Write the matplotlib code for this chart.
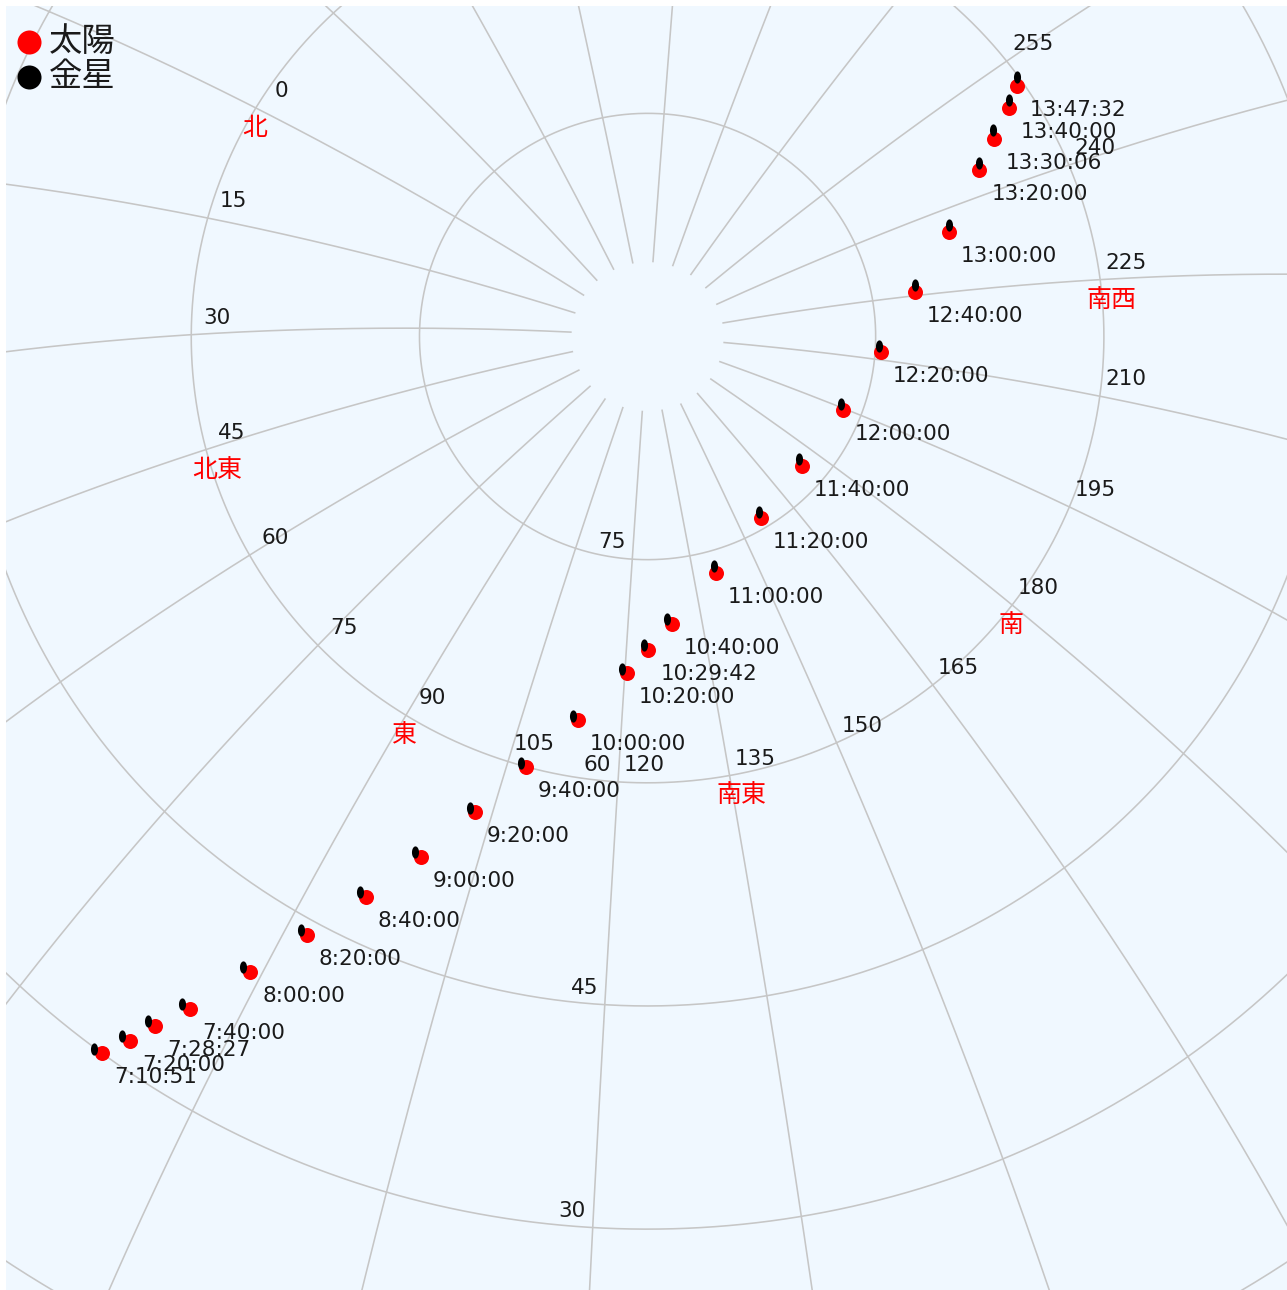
import numpy as np
import matplotlib
matplotlib.use("Agg")
import matplotlib.pyplot as plt
from matplotlib.path import Path
from matplotlib.lines import Line2D

# ---------------- data ----------------
times = ['7:10:51', '7:20:00', '7:28:27', '7:40:00', '8:00:00', '8:20:00', '8:40:00',
         '9:00:00', '9:20:00', '9:40:00', '10:00:00', '10:20:00', '10:29:42', '10:40:00',
         '11:00:00', '11:20:00', '11:40:00', '12:00:00', '12:20:00', '12:40:00', '13:00:00',
         '13:20:00', '13:30:06', '13:40:00', '13:47:32']
sun_alt = [30.02, 31.78, 33.53, 35.77, 39.94, 43.98, 48.04, 51.99, 56.09, 59.98, 63.82,
           67.36, 68.93, 70.61, 73.50, 75.70, 76.64, 76.24, 74.63, 72.16, 68.97, 65.48,
           63.63, 61.71, 60.41]
sun_az = [82.45, 83.68, 84.71, 86.33, 89.11, 91.92, 95.39, 98.98, 102.97, 107.51, 113.28,
          120.32, 124.11, 128.86, 140.36, 156.34, 174.57, 194.50, 212.04, 225.72, 235.92,
          243.81, 247.01, 249.74, 251.71]
venus_alt = [29.92, 31.70, 33.52, 35.75, 40.00, 44.08, 48.16, 52.15, 56.26, 60.16, 64.03,
             67.61, 69.24, 70.95, 73.97, 76.12, 77.05, 76.49, 74.76, 72.07, 68.80, 65.25,
             63.36, 61.39, 60.09]
venus_az = [81.79, 82.97, 84.01, 85.60, 88.39, 91.24, 94.65, 98.23, 102.23, 106.78, 112.47,
            119.45, 123.24, 127.98, 140.33, 156.85, 175.61, 195.91, 213.44, 227.26, 237.17,
            244.83, 248.18, 250.66, 252.60]
az_ticks = list(range(0, 360, 15))
alt_rings = [15, 30, 45, 60, 75]
directions = ['北', '北東', '東', '南東', '南', '南西', '西', '北西']
direction_az = [0, 45, 90, 135, 180, 225, 270, 315]
legend_labels = ['太陽', '金星']

# ---------------- projection (azimuthal equidistant, view centre off zenith) ----------------
VIEW_TILT = 20.673      # angular distance of view centre from zenith (deg)
VIEW_AZ = 124.398       # azimuth of view centre
ROT = 270.416           # screen rotation (deg)
K = 14.877              # pixels per degree
VX, VY = 649.801, 644.048   # pixel position of view centre (from top-left)


def project(alt, az):
    a = np.radians(np.asarray(alt, float))
    A = np.radians(np.asarray(az, float))
    x = np.cos(a) * np.cos(A)
    y = np.cos(a) * np.sin(A)
    z = np.sin(a)
    av = np.radians(VIEW_AZ)
    d = np.radians(VIEW_TILT)
    x1 = x * np.cos(av) + y * np.sin(av)
    y1 = -x * np.sin(av) + y * np.cos(av)
    x2 = x1 * np.cos(d) - z * np.sin(d)
    z2 = x1 * np.sin(d) + z * np.cos(d)
    c = np.degrees(np.arccos(np.clip(z2, -1, 1)))
    ang = np.radians(ROT) + np.arctan2(y1, x2)
    return c * np.cos(ang), c * np.sin(ang)


# ---------------- figure ----------------
W, H = 1287, 1290
BORDER = 6
fig = plt.figure(figsize=(W / 100, H / 100), dpi=100, facecolor='white')
ax = fig.add_axes([BORDER / W, 0, (W - BORDER) / W, (H - BORDER) / H])
ax.set_facecolor('#f0f8ff')
ax.set_xlim((BORDER - VX) / K, (W - VX) / K)
ax.set_ylim((VY - H) / K, (VY - BORDER) / K)
ax.set_xticks([])
ax.set_yticks([])
for s in ax.spines.values():
    s.set_visible(False)

GRID = '#c6c6c6'
TXT = '#1a1a1a'
CJK = ['Noto Sans CJK JP', 'DejaVu Sans']
FS = 15.5


def visible(px, py, dx, dy, margin=14):
    """True when a label placed at data point + pixel offset lies inside the view."""
    X, Y = ax.transData.transform((px, py))
    X, Y = X + dx, Y + dy
    return margin < X < W - margin and margin < Y < H - BORDER - margin


# azimuth lines
alts_line = np.linspace(85, -5, 400)
for az in az_ticks:
    gx, gy = project(alts_line, np.full_like(alts_line, az))
    ax.plot(gx, gy, color=GRID, lw=1.15, zorder=1, solid_capstyle='butt')

# altitude rings
azs_ring = np.linspace(0, 360, 1441)
for alt in alt_rings:
    gx, gy = project(np.full_like(azs_ring, alt), azs_ring)
    ax.plot(gx, gy, color=GRID, lw=1.15, zorder=1)

# azimuth numbers on the 60 deg ring
for az in az_ticks:
    px, py = project(60, az)
    if visible(px, py, 26, 18):
        ax.annotate(str(az), (px, py), xytext=(26, 11), textcoords='offset pixels',
                    ha='center', va='baseline', fontsize=FS, color=TXT, zorder=3)

# compass directions
for name, az in zip(directions, direction_az):
    px, py = project(60, az)
    if visible(px, py, 0, -18):
        ax.annotate(name, (px, py), xytext=(-13.5, -27), textcoords='offset pixels',
                    ha='left', va='baseline', fontsize=18, color='#ff0000',
                    family=CJK, zorder=3)

# altitude numbers along azimuth 120
for alt in alt_rings:
    px, py = project(alt, 120)
    if visible(px, py, -20, 18):
        ax.annotate(str(alt), (px, py), xytext=(-20.5, 11), textcoords='offset pixels',
                    ha='center', va='baseline', fontsize=FS, color=TXT, zorder=3)

# sun and venus
sx, sy = project(sun_alt, sun_az)
vx, vy = project(venus_alt, venus_az)
ax.plot(sx, sy, ls='none', marker='o', ms=10.8, mfc='#ff0000', mec='none', zorder=5)
t = np.linspace(0, 2 * np.pi, 41)
ellipse = Path(np.column_stack([0.58 * np.cos(t), np.sin(t)]), closed=True)
ax.plot(vx, vy, ls='none', marker=ellipse, ms=8.8, mfc='black', mec='none', zorder=6)

for label, px, py in zip(times, sx, sy):
    ax.annotate(label, (px, py), xytext=(12, -30), textcoords='offset pixels',
                ha='left', va='baseline', fontsize=FS, color=TXT, zorder=7)

# legend (top-left)
legend_colors = ['#ff0000', 'black']
for i, (lab, col) in enumerate(zip(legend_labels, legend_colors)):
    yc = 1 - (41.7 + 35 * i) / H
    fig.add_artist(Line2D([28.6 / W], [yc], marker='o', ms=17.3, color=col,
                          mec='none', ls='none', transform=fig.transFigure))
    fig.text(49 / W, yc, lab, ha='left', va='center', fontsize=24, color=TXT,
             family=CJK)

fig.savefig('out.png', dpi=100, facecolor='white')
